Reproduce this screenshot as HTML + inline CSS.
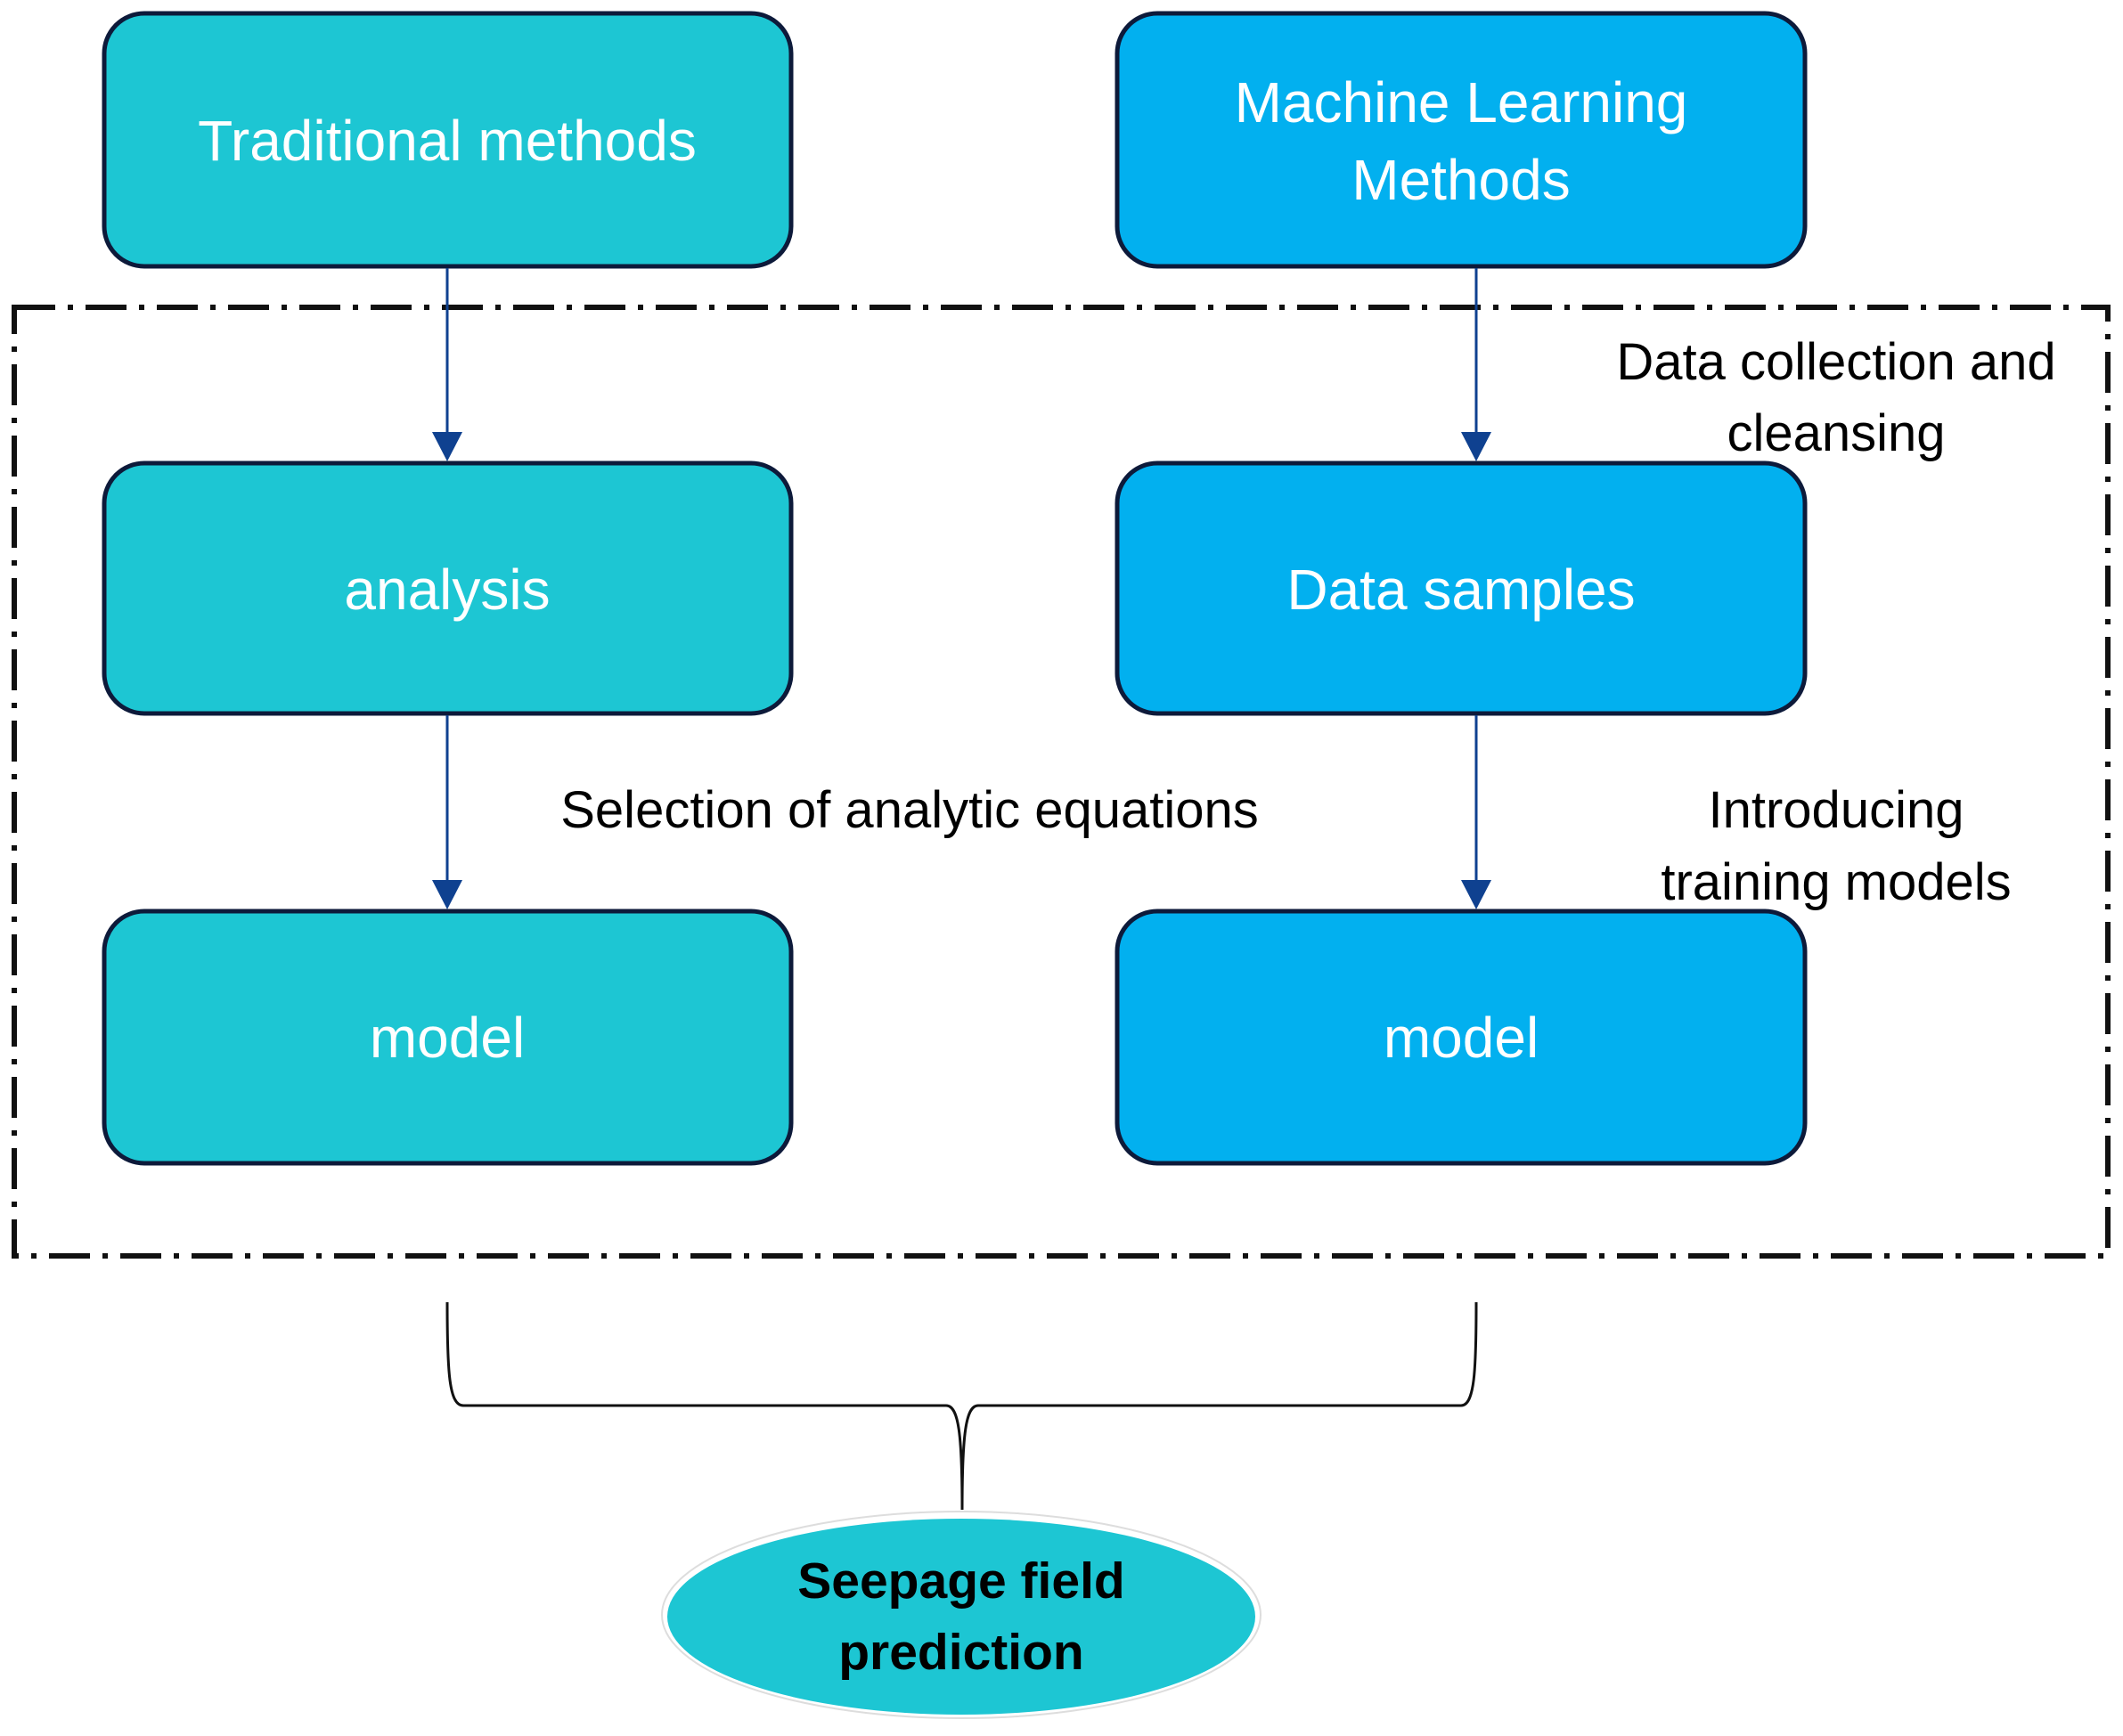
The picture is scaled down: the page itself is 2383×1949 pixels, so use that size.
<!DOCTYPE html>
<html><head><meta charset="utf-8"><style>
html,body{margin:0;padding:0;background:#fff}
svg{display:block}
text{font-family:"Liberation Sans",Arial,sans-serif}
</style></head><body>
<svg width="2383" height="1949" viewBox="0 0 2383 1949" xmlns="http://www.w3.org/2000/svg">
<rect x="16" y="345" width="2350" height="1065" fill="none" stroke="#111" stroke-width="6" stroke-dasharray="46 14 6 14"/>
<g stroke="#0d1a3a" stroke-width="5">
<rect x="117" y="15" width="771" height="284" rx="45" fill="#1dc6d3"/>
<rect x="1254" y="15" width="772" height="284" rx="45" fill="#02b0ef"/>
<rect x="117" y="520" width="771" height="281" rx="45" fill="#1dc6d3"/>
<rect x="1254" y="520" width="772" height="281" rx="45" fill="#02b0ef"/>
<rect x="117" y="1023" width="771" height="283" rx="45" fill="#1dc6d3"/>
<rect x="1254" y="1023" width="772" height="283" rx="45" fill="#02b0ef"/>
</g>
<g stroke="#0f4190" stroke-width="3">
<line x1="502" y1="301" x2="502" y2="490"/>
<line x1="1657" y1="301" x2="1657" y2="490"/>
<line x1="502" y1="803" x2="502" y2="993"/>
<line x1="1657" y1="803" x2="1657" y2="993"/>
</g>
<g fill="#0f4190">
<polygon points="485,485 519,485 502,518"/>
<polygon points="1640,485 1674,485 1657,518"/>
<polygon points="485,988 519,988 502,1021"/>
<polygon points="1640,988 1674,988 1657,1021"/>
</g>
<path d="M502,1462 C502,1540 504,1578 520,1578 L1062,1578 C1076,1578 1080,1610 1080,1695 M1080,1695 C1080,1610 1084,1578 1098,1578 L1640,1578 C1655,1578 1657,1540 1657,1462" fill="none" stroke="#111" stroke-width="3"/>
<ellipse cx="1079" cy="1813" rx="336" ry="116" fill="none" stroke="#ddd" stroke-width="2"/>
<ellipse cx="1079" cy="1815" rx="330" ry="110" fill="#1dc6d3"/>
<g fill="#fff" font-size="64" text-anchor="middle">
<text x="502" y="180">Traditional methods</text>
<text x="1640" y="137">Machine Learning</text>
<text x="1640" y="224">Methods</text>
<text x="502" y="684">analysis</text>
<text x="1640" y="684">Data samples</text>
<text x="502" y="1187">model</text>
<text x="1640" y="1187">model</text>
</g>
<g fill="#000" font-size="58" text-anchor="middle">
<text x="1021" y="929">Selection of analytic equations</text>
<text x="2061" y="426">Data collection and</text>
<text x="2061" y="506">cleansing</text>
<text x="2061" y="929">Introducing</text>
<text x="2061" y="1010">training models</text>
</g>
<g fill="#000" font-size="57" font-weight="bold" text-anchor="middle">
<text x="1079" y="1794">Seepage field</text>
<text x="1079" y="1874">prediction</text>
</g>
</svg>
</body></html>
